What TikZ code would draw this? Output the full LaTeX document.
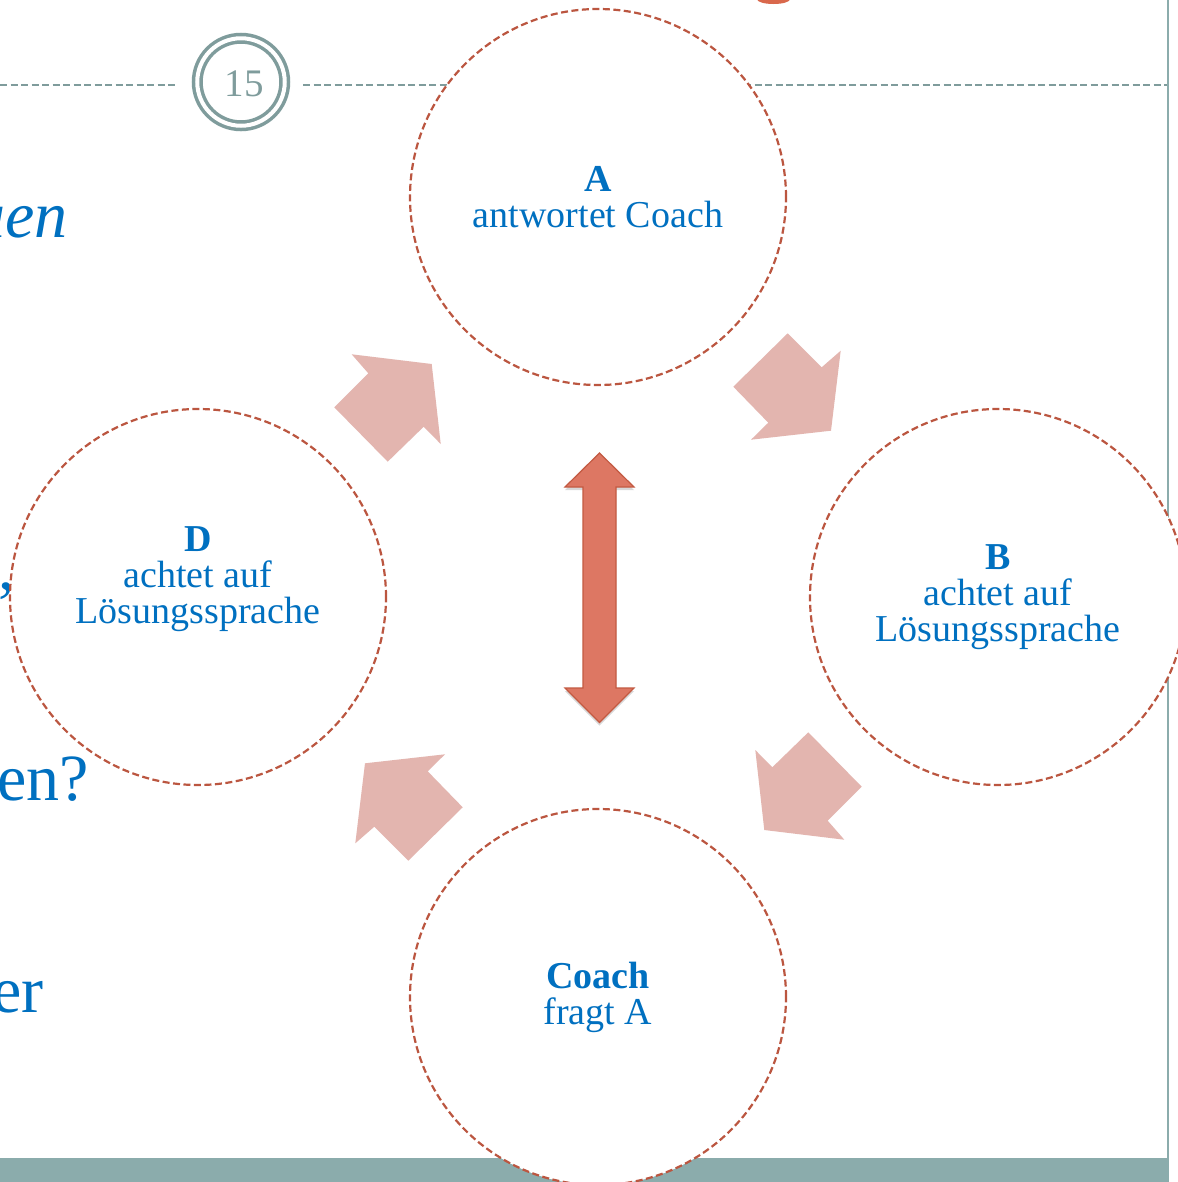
\documentclass[tikz,border=0pt]{standalone}
\usepackage{fontspec}
\setmainfont{Liberation Serif}
\usetikzlibrary{shadows}
\definecolor{txtblue}{HTML}{0070C0}
\definecolor{ringcol}{HTML}{BB5640}
\definecolor{pinkfill}{HTML}{E3B5AF}
\definecolor{redarrow}{HTML}{DD7763}
\definecolor{redborder}{HTML}{C35A42}
\definecolor{slategray}{HTML}{7F9C9C}
\definecolor{barcol}{HTML}{8BACAC}
\definecolor{titleorange}{HTML}{D9684C}
\begin{document}
\begin{tikzpicture}[x=1bp,y=-1bp,
  dcircle/.style={circle, draw=ringcol, fill=white, line width=2.2bp,
    dash pattern=on 7bp off 3.5bp, minimum size=376bp, inner sep=0pt},
  lbl/.style={text=txtblue, align=center, font=\fontsize{38bp}{36bp}\selectfont},
  sidetext/.style={text=txtblue, anchor=base east, inner sep=0pt,
    font=\fontsize{66bp}{70bp}\selectfont},
  grayline/.style={slategray, line width=2bp, dash pattern=on 7bp off 3.5bp},
  pinkblock/.style={fill=pinkfill},
]
\useasboundingbox (0,0) rectangle (1178,1182);
\fill[white] (0,0) rectangle (1178,1182);
\clip (0,0) rectangle (1178,1182);

% slide background
\fill[barcol] (0,1158) rectangle (1167,1182);
\draw[barcol, line width=2.5bp] (1168,0) -- (1168,1182);
\coordinate (l0) at (0,85);
\coordinate (l1) at (175,85);
\coordinate (l2) at (303,85);
\coordinate (l3) at (1167,85);
\draw[grayline] (l0) -- (l1);
\draw[grayline] (l2) -- (l3);

% page number
\node[circle, draw=slategray, line width=3.5bp, double=white, double distance=4bp,
  minimum size=87.5bp, inner sep=0pt] (pagenum) at (241,82) {};
\node[text=slategray, inner sep=0pt, font=\fontsize{39bp}{39bp}\selectfont]
  (pagetxt) at (244,84) {15};

% fragment of the title
\draw[titleorange, line width=4bp] (773.5,-2) ellipse [x radius=15, y radius=4];

% cut-off body text on the left
\node[sidetext, font=\fontsize{66bp}{70bp}\selectfont\itshape] (t1) at (68,237) {uen};
\node[sidetext] (t2) at (15,589) {,};
\node[sidetext] (t3) at (89,800) {en?};
\node[sidetext] (t4) at (44,1012) {er};

% circles
\node[dcircle] (A) at (598,197) {};
\node[dcircle] (B) at (998,597) {};
\node[dcircle] (C) at (598,997) {};
\node[dcircle] (D) at (198,597) {};

\node[lbl] (Alab) at (A.center) {\textbf{A}\\antwortet Coach};
\node[lbl] (Blab) at (B.center) {\textbf{B}\\achtet auf\\Lösungssprache};
\node[lbl] (Clab) at (C.center) {\textbf{Coach}\\fragt A};
\node[lbl] (Dlab) at ([yshift=18bp]D.center) {\textbf{D}\\achtet auf\\Lösungssprache};

% pink block arrows (cycle)
\foreach \ang in {0,-90,-180,-270} {
  \fill[pinkblock, rotate around={\ang:(598,597)}]
    (351.7,354.3) -- (431.7,364) -- (440.7,444) -- (423.7,426.7) --
    (387.7,461.7) -- (334.3,407.3) -- (368.3,373.3) -- cycle;
}

% central double arrow
\filldraw[fill=redarrow, draw=redborder, line width=1.2bp,
  drop shadow={opacity=0.3, shadow xshift=0bp, shadow yshift=-3bp}]
  (599.5,453) -- (634,487) -- (616,487) -- (616,688) -- (634,688) --
  (599.5,722.5) -- (565,688) -- (583,688) -- (583,487) -- (565,487) -- cycle;
\end{tikzpicture}
\end{document}
